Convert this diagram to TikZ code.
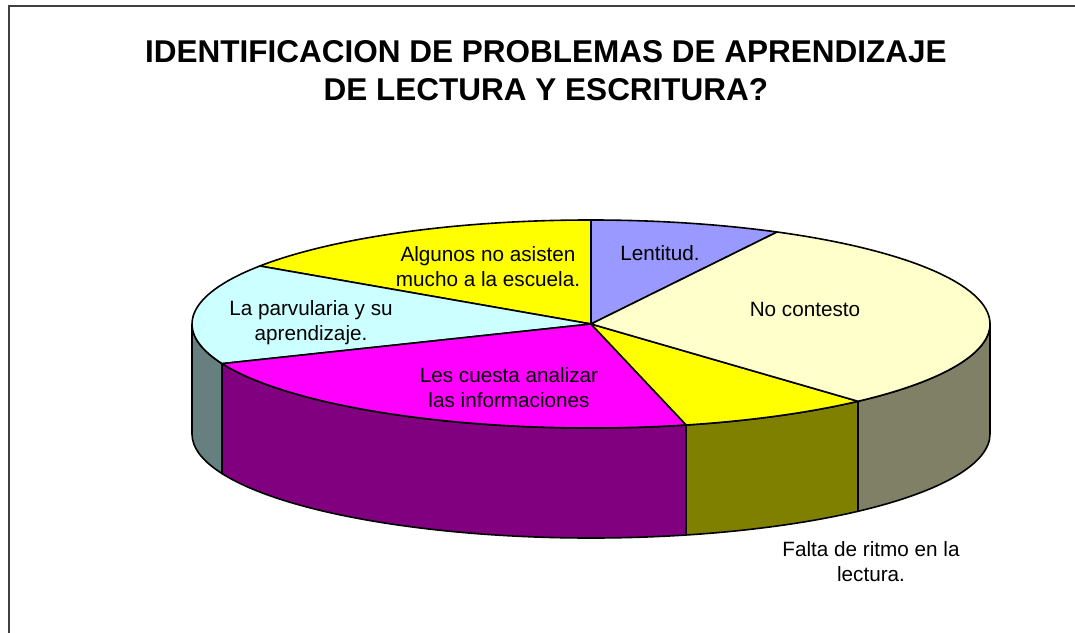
\documentclass[tikz,border=0pt]{standalone}
\usepackage{fontspec}
\setmainfont{Liberation Sans}
\usetikzlibrary{calc}
\definecolor{lentcol}{HTML}{9999FF}
\definecolor{nocol}{HTML}{FFFFCC}
\definecolor{yelcol}{HTML}{FFFF00}
\definecolor{magcol}{HTML}{FF00FF}
\definecolor{parcol}{HTML}{CCFFFF}
\definecolor{parside}{HTML}{668080}
\definecolor{magside}{HTML}{800080}
\definecolor{yelside}{HTML}{808000}
\definecolor{noside}{HTML}{808066}
\definecolor{framecol}{HTML}{404040}
\tikzset{
  pieline/.style={draw=black, line width=1.6pt, line join=round},
  lbl/.style={font=\fontsize{20.7}{25}\selectfont, align=center, inner sep=0pt, text=black},
  ttl/.style={font=\fontsize{31.5}{38}\selectfont\bfseries, align=center, inner sep=0pt, text=black},
}
\newcommand{\pieSide}[3]{%
  \filldraw[pieline, fill=#3] ($(C)+(#1:399 and 104)$)
    arc[start angle=#1, end angle=#2, x radius=399, y radius=104]
    -- ++(0,-110)
    arc[start angle=#2, end angle=#1, x radius=399, y radius=104] -- cycle;}
\newcommand{\pieTop}[3]{%
  \filldraw[pieline, fill=#3] (C) -- ($(C)+(#1:399 and 104)$)
    arc[start angle=#1, end angle=#2, x radius=399, y radius=104] -- cycle;}
\begin{document}
\begin{tikzpicture}[x=1pt,y=1pt]
\useasboundingbox (0,0) rectangle (1075,632);
\begin{scope}
  \clip (0,0) rectangle (1075,632);
  \fill[white] (0,0) rectangle (1075,632);
  \draw[framecol, line width=1.5pt] (9,626) rectangle (1100,-30);
\end{scope}
\coordinate (C) at (591,308);
% side walls
\pieSide{180}{202.4}{parside}
\pieSide{202.4}{283.8}{magside}
\pieSide{283.8}{312}{yelside}
\pieSide{312}{360}{noside}
% top slices
\pieTop{62.2}{90}{lentcol}
\pieTop{90}{146.1}{yelcol}
\pieTop{146.1}{202.4}{parcol}
\pieTop{202.4}{283.8}{magcol}
\pieTop{283.8}{312}{yelcol}
\pieTop{312}{422.2}{nocol}
% title
\node[ttl] (title) at (546,561) {IDENTIFICACION DE PROBLEMAS DE APRENDIZAJE\\DE LECTURA Y ESCRITURA?};
% labels
\node[lbl] (algunos) at (488,365) {Algunos no asisten\\mucho a la escuela.};
\node[lbl] (lentitud) at (660,379) {Lentitud.};
\node[lbl] (nocont) at (805,323) {No contesto};
\node[lbl] (parv) at (311,309) {La parvularia y su\\aprendizaje.};
\node[lbl] (cuesta) at (509,244) {Les cuesta analizar\\las informaciones};
\node[lbl] (falta) at (871,70) {Falta de ritmo en la\\lectura.};
\end{tikzpicture}
\end{document}
